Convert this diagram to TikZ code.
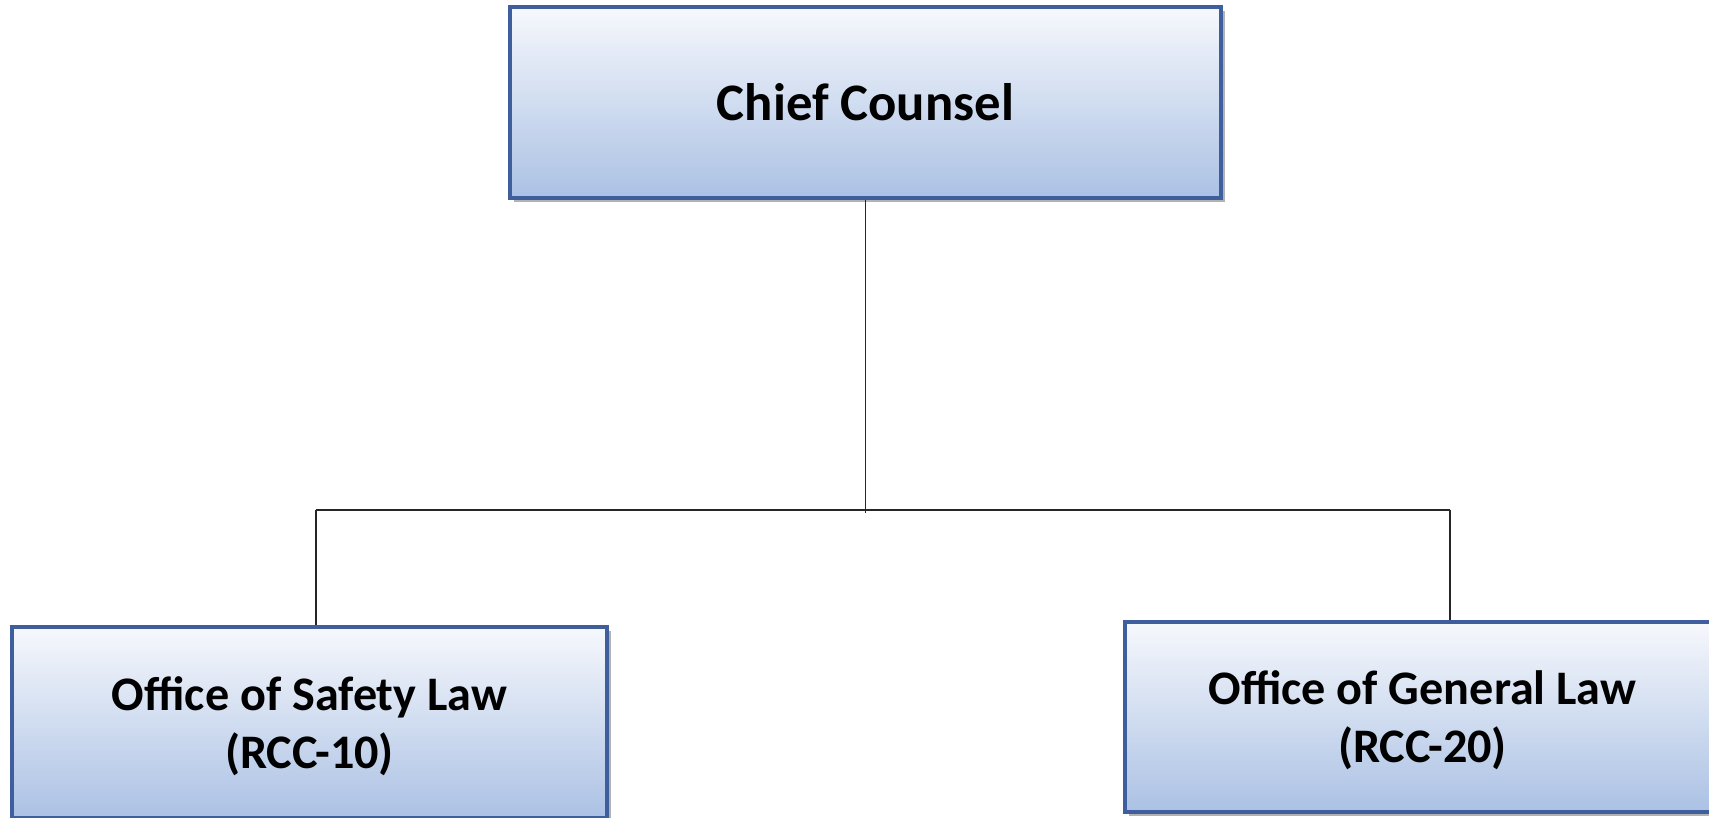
\documentclass[tikz,border=0pt]{standalone}
\usepackage{fontspec}
\setmainfont{Carlito}
\usetikzlibrary{shadows}

\definecolor{boxtop}{HTML}{F6F8FC}
\definecolor{boxbottom}{HTML}{ABC1E4}
\definecolor{boxedge}{HTML}{3E5E9E}

\tikzset{
  unit/.style={draw=boxedge, line width=1pt, top color=boxtop, bottom color=boxbottom,
    drop shadow={shadow xshift=0.04cm, shadow yshift=-0.04cm, opacity=0.3, fill=black},
    inner sep=0pt, align=center, font=\fontsize{15}{18}\selectfont\bfseries},
  office/.style={unit, minimum width=5.95cm, font=\fontsize{13.7}{16.5}\selectfont\bfseries},
  link/.style={draw=black!85, line width=0.5pt}
}

\begin{document}
\begin{tikzpicture}[x=0.01cm, y=-0.01cm]
\useasboundingbox (0,0) rectangle (1709,817);

\node[unit, minimum width=7.11cm, minimum height=1.91cm] (chief) at (865.5,102.5) {Chief Counsel};
\node[office, minimum height=1.91cm] (safety) at (309.5,722.5) {\strut Office of Safety Law\\(RCC-10)};
\node[office, minimum height=1.90cm] (general) at (1422.5,717) {\strut Office of General Law\\(RCC-20)};

\coordinate (hub) at (865.5,513);
\coordinate (barL) at (316,510);
\coordinate (barR) at (1450,510);

\draw[link] (chief.south) -- (hub);
\draw[link] (barL) -- (barR);
\draw[link] (barL) -- (barL |- safety.north);
\draw[link] (barR) -- (barR |- general.north);
\end{tikzpicture}
\end{document}
